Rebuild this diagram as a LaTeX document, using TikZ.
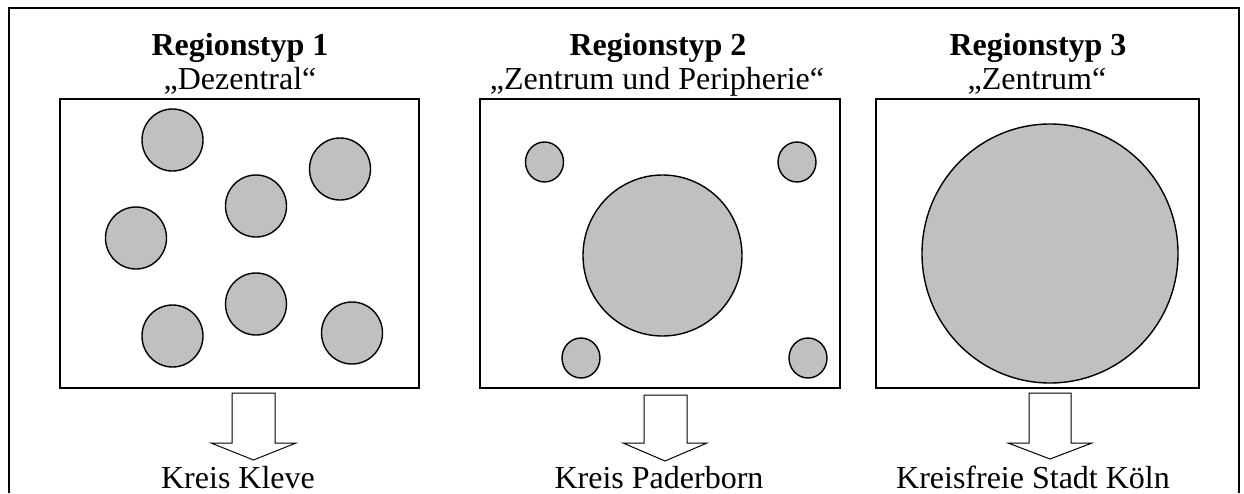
\documentclass[tikz,border=0pt]{standalone}
\usepackage{fontspec}
\setmainfont{Liberation Serif}
\usetikzlibrary{shapes.geometric}
\definecolor{regiongray}{HTML}{C0C0C0}
\tikzset{
  regionbox/.style={draw=black, line width=2.4pt, fill=white, rectangle, inner sep=0pt, anchor=north west},
  town/.style={draw=black, line width=1.4pt, fill=regiongray, ellipse, inner sep=0pt},
  titletext/.style={anchor=base, inner sep=0pt, font=\fontsize{32}{38}\selectfont\bfseries},
  subtext/.style={anchor=base, inner sep=0pt, font=\fontsize{32}{38}\selectfont},
  blockarrow/.style={draw=black, line width=1pt, fill=white, line join=miter},
}
\begin{document}
\begin{tikzpicture}[x=1pt,y=-1pt]
\useasboundingbox (0,0) rectangle (1244,493);
% outer frame (open at the bottom)
\draw[line width=2.4pt] (9,493) -- (9,8) -- (1239,8) -- (1239,493);

% titles
\node[titletext] (t1) at (240,55) {Regionstyp 1};
\node[subtext] (s1) at (240,89) {„Dezentral“};
\node[titletext] (t2) at (658,55) {Regionstyp 2};
\node[subtext] (s2) at (657,89) {„Zentrum und Peripherie“};
\node[titletext] (t3) at (1038,55) {Regionstyp 3};
\node[subtext] (s3) at (1037,89) {„Zentrum“};

% boxes
\node[regionbox, minimum width=359pt, minimum height=289pt] (b1) at (59,98) {};
\node[regionbox, minimum width=360pt, minimum height=289pt] (b2) at (479,98) {};
\node[regionbox, minimum width=323pt, minimum height=289pt] (b3) at (875,98) {};

% box 1 : decentral
\foreach \n/\cx/\cy in {a/172.5/140, b/340/169, c/256/206, d/136/238, e/256/304, f/172.5/336, g/352/333}{
  \node[town, minimum width=61pt, minimum height=62pt] (r1\n) at (\cx,\cy) {};
}

% box 2 : centre and periphery
\node[town, minimum width=38pt, minimum height=40pt] (r2a) at (544.5,162) {};
\node[town, minimum width=38pt, minimum height=40pt] (r2b) at (797,162) {};
\node[town, minimum width=159pt, minimum height=161pt] (r2c) at (662.5,255.5) {};
\node[town, minimum width=38pt, minimum height=40pt] (r2d) at (581,358) {};
\node[town, minimum width=38pt, minimum height=40pt] (r2e) at (808,358) {};

% box 3 : centre
\node[town, minimum width=256pt, minimum height=259pt] (r3a) at (1050,253.5) {};

% block arrows
\draw[blockarrow] (232,393) -- (275,393) -- (275,443) -- (296,443) -- (253.5,460) -- (211,443) -- (232,443) -- cycle;
\draw[blockarrow] (644,395) -- (687,395) -- (687,443) -- (707,443) -- (665,461) -- (623,443) -- (644,443) -- cycle;
\draw[blockarrow] (1029,393) -- (1071,393) -- (1071,443) -- (1092,443) -- (1050,459) -- (1008,443) -- (1029,443) -- cycle;

% bottom labels
\node[subtext] (k1) at (238,488) {Kreis Kleve};
\node[subtext] (k2) at (659,488) {Kreis Paderborn};
\node[subtext] (k3) at (1033,488) {Kreisfreie Stadt Köln};
\end{tikzpicture}
\end{document}
